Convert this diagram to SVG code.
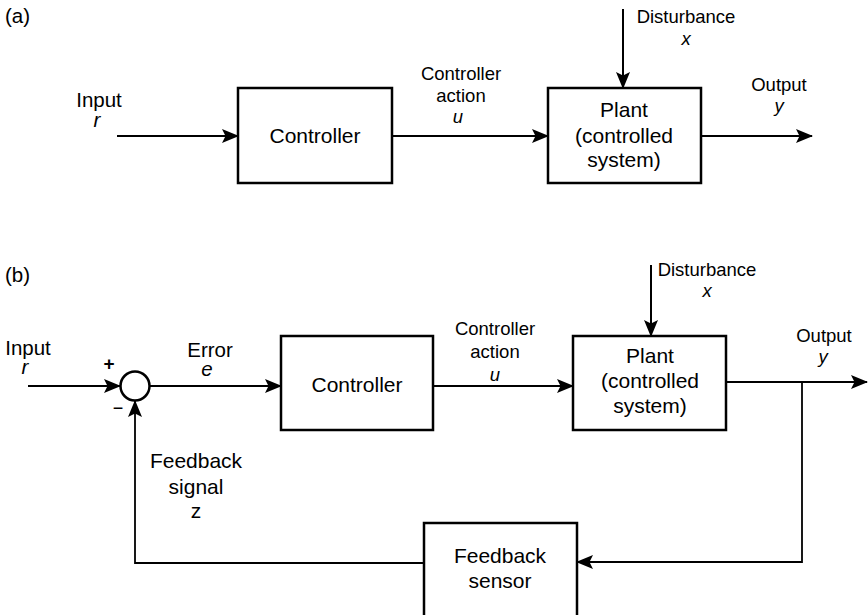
<svg xmlns="http://www.w3.org/2000/svg" width="868" height="615" viewBox="0 0 868 615">
<defs>
<marker id="arr" markerWidth="17" markerHeight="14" refX="16" refY="7" orient="auto" markerUnits="userSpaceOnUse" viewBox="0 0 17 14">
<path d="M0,0 L17,7 L0,14 L3.5,7 Z" fill="#000"/>
</marker>
</defs>
<style>
text{font-family:"Liberation Sans",Arial,sans-serif;fill:#000;text-anchor:middle}
.box{fill:#fff;stroke:#000;stroke-width:2.5}
.bt{font-size:21px}
.lb{font-size:18.5px}
.big{font-size:20.5px}
.v{font-style:italic}
.ln{fill:none;stroke:#000;stroke-width:2}
.fb{fill:none;stroke:#000;stroke-width:1.8}
</style>
<rect width="868" height="615" fill="#fff"/>

<text x="5" y="23" class="big" style="text-anchor:start">(a)</text>
<text x="5" y="282" class="big" style="text-anchor:start">(b)</text>

<g id="connectors">
<!-- (a) -->
<line class="ln" x1="117" y1="136" x2="238" y2="136" marker-end="url(#arr)"/>
<line class="ln" x1="392" y1="136" x2="548" y2="136" marker-end="url(#arr)"/>
<line class="ln" x1="623" y1="9" x2="623" y2="88" marker-end="url(#arr)"/>
<line class="ln" x1="702" y1="136" x2="812" y2="136" marker-end="url(#arr)"/>
<!-- (b) -->
<line class="ln" x1="28" y1="386" x2="120" y2="386" marker-end="url(#arr)"/>
<line class="ln" x1="149" y1="386" x2="281" y2="386" marker-end="url(#arr)"/>
<line class="ln" x1="433" y1="386" x2="573" y2="386" marker-end="url(#arr)"/>
<line class="ln" x1="651" y1="265" x2="651" y2="336" marker-end="url(#arr)"/>
<line class="ln" x1="726" y1="382" x2="867" y2="382" marker-end="url(#arr)"/>
<polyline class="fb" points="802,382 802,562 577,562" marker-end="url(#arr)"/>
<polyline class="fb" points="424,563 135,563 135,401" marker-end="url(#arr)"/>
</g>

<g id="controller-a">
<rect class="box" x="238" y="88" width="154" height="95"/>
<text x="315" y="143" class="bt">Controller</text>
</g>
<g id="plant-a">
<rect class="box" x="548" y="88" width="153" height="95"/>
<text x="624" y="117" class="bt">Plant</text>
<text x="624" y="143" class="bt">(controlled</text>
<text x="624" y="167" class="bt">system)</text>
</g>
<g id="labels-a">
<text x="99" y="107" class="big">Input</text>
<text x="97" y="127" class="big v">r</text>
<text x="461" y="80" class="lb">Controller</text>
<text x="461" y="102" class="lb">action</text>
<text x="458" y="123" class="lb v">u</text>
<text x="686" y="23" class="lb">Disturbance</text>
<text x="686" y="45" class="lb v">x</text>
<text x="779" y="91" class="lb">Output</text>
<text x="779" y="112" class="lb v">y</text>
</g>

<g id="sum-junction">
<circle cx="135" cy="386" r="14.5" fill="#fff" stroke="#000" stroke-width="2.5"/>
<text x="109" y="370" style="font-size:19px;font-weight:bold">+</text>
<text x="118" y="414" style="font-size:18px">−</text>
</g>
<g id="controller-b">
<rect class="box" x="281" y="336" width="152" height="94"/>
<text x="357" y="392" class="bt">Controller</text>
</g>
<g id="plant-b">
<rect class="box" x="573" y="336" width="153" height="94"/>
<text x="650" y="363" class="bt">Plant</text>
<text x="650" y="388" class="bt">(controlled</text>
<text x="650" y="413" class="bt">system)</text>
</g>
<g id="sensor">
<rect class="box" x="424" y="523" width="153" height="110"/>
<text x="500" y="563" class="bt">Feedback</text>
<text x="500" y="588" class="bt">sensor</text>
</g>
<g id="labels-b">
<text x="28" y="355" class="big">Input</text>
<text x="25" y="374" class="big v">r</text>
<text x="210" y="357" class="big">Error</text>
<text x="207" y="376" class="big v">e</text>
<text x="495" y="335" class="lb">Controller</text>
<text x="495" y="358" class="lb">action</text>
<text x="495" y="381" class="lb v">u</text>
<text x="707" y="276" class="lb">Disturbance</text>
<text x="707" y="297" class="lb v">x</text>
<text x="824" y="342" class="lb">Output</text>
<text x="823" y="363" class="lb v">y</text>
<text x="196" y="468" class="bt">Feedback</text>
<text x="196" y="494" class="bt">signal</text>
<text x="196" y="518" class="bt">z</text>
</g>
</svg>
